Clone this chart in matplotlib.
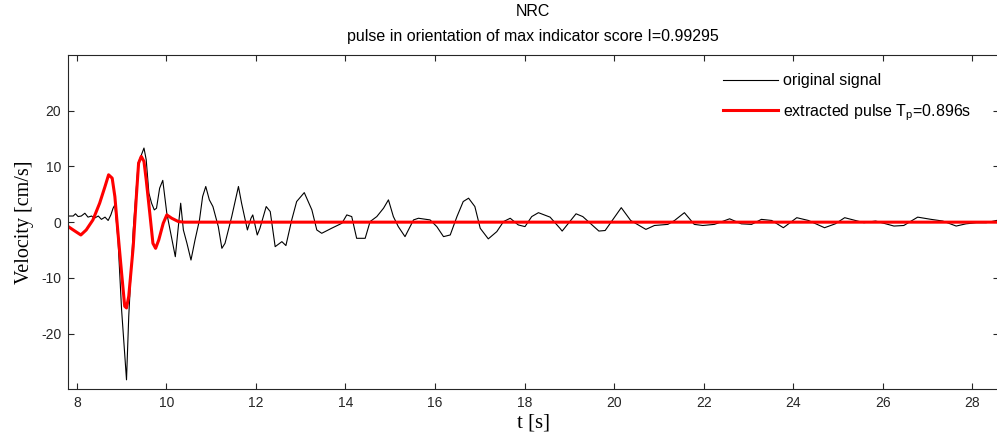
import matplotlib
matplotlib.use('Agg')
import matplotlib.pyplot as plt

# original signal
t_orig = [7.81, 7.92, 7.97, 8.03, 8.10, 8.18, 8.25, 8.33, 8.39, 8.48, 8.55, 8.63, 8.70, 8.76, 8.81, 8.85,
          8.92, 9.00, 9.11, 9.16, 9.26, 9.37, 9.43, 9.50, 9.55, 9.61, 9.67, 9.73, 9.78, 9.85, 9.92,
          10.01, 10.20, 10.32, 10.38, 10.46, 10.55, 10.64, 10.74, 10.81, 10.88, 10.96, 11.04, 11.16,
          11.24, 11.31, 11.46, 11.61, 11.68, 11.76, 11.81, 11.89, 11.93, 12.03, 12.09, 12.23,
          12.32, 12.43, 12.58, 12.67, 12.80, 12.91, 13.08, 13.25, 13.36, 13.47, 13.69, 13.92, 14.03,
          14.14, 14.25, 14.44, 14.55, 14.70, 14.85, 14.96, 15.07, 15.18, 15.33, 15.52, 15.63, 15.89,
          16.04, 16.19, 16.34, 16.49, 16.63, 16.75, 16.89, 17.01, 17.19, 17.38, 17.53, 17.68, 17.86,
          18.01, 18.16, 18.31, 18.57, 18.79, 18.84, 19.15, 19.30, 19.66, 19.80, 20.16, 20.37, 20.71,
          20.90, 21.20, 21.35, 21.57, 21.79, 21.98, 22.24, 22.58, 22.84, 23.07, 23.29, 23.52, 23.78,
          24.08, 24.34, 24.70, 24.94, 25.15, 25.39, 25.58, 25.84, 26.25, 26.47, 26.78, 27.08, 27.34,
          27.64, 27.86, 28.09, 28.31, 28.54]
v_orig = [1.1, 1.1, 1.5, 1.0, 1.1, 1.6, 0.9, 1.1, 0.7, 1.1, 0.5, 0.9, 0.3, 1.3, 2.5, 3.1,
          -3.2, -15.7, -28.3, -16.9, -1.4, 10.6, 11.8, 13.3, 11.2, 5.2, 3.4, 2.2, 2.5, 6.1, 7.5,
          1.6, -6.2, 3.4, -1.4, -3.8, -6.8, -3.2, 0.4, 4.6, 6.4, 4.0, 2.8, -0.8,
          -4.7, -3.8, 1.0, 6.4, 3.4, 0.4, -1.4, 0.7, 1.3, -2.3, -1.1, 2.8,
          1.9, -4.4, -3.5, -4.2, 0.4, 3.7, 5.3, 2.2, -1.4, -2.0, -1.1, -0.2, 1.3,
          1.0, -2.9, -2.9, 0.1, 1.0, 2.5, 4.0, 1.0, -0.8, -2.6, 0.4, 0.7, 0.4,
          -0.8, -2.6, -2.3, 1.0, 3.7, 4.3, 2.8, -1.1, -3.0, -1.7, 0.1, 0.7, -0.5,
          -0.8, 1.0, 1.7, 0.9, -1.1, -1.6, 1.5, 1.0, -1.6, -1.5, 2.6, 0.3, -1.3,
          -0.6, -0.4, 0.3, 1.7, -0.4, -0.6, -0.4, 0.6, -0.3, -0.4, 0.5, 0.3, -1.0,
          0.8, 0.3, -1.0, -0.3, 0.8, 0.3, -0.1, 0.2, -0.7, -0.6, 0.9, 0.5, 0.2,
          -0.7, -0.3, -0.1, -0.1, 0.3]

# extracted pulse
t_pulse = [7.81, 7.92, 8.09, 8.21, 8.36, 8.51, 8.63, 8.71, 8.79, 8.85, 8.92, 9.00, 9.07, 9.11, 9.16,
           9.26, 9.33, 9.38, 9.44, 9.50, 9.55, 9.63, 9.70, 9.76, 9.83, 9.93, 10.01, 10.12, 10.27,
           10.40, 28.6]
v_pulse = [-0.8, -1.4, -2.3, -1.4, 0.4, 3.4, 6.4, 8.5, 7.9, 4.6, -2.0, -9.1, -15.1, -15.4, -13.3,
           -4.4, 4.6, 10.6, 11.8, 10.9, 7.6, 1.6, -3.8, -4.7, -3.2, -0.2, 1.3, 0.7, 0.1,
           0.0, 0.0]

x_ticks = [8, 10, 12, 14, 16, 18, 20, 22, 24, 26, 28]
y_ticks = [-20, -10, 0, 10, 20]

plt.rcParams['font.family'] = ['Liberation Sans', 'DejaVu Sans']
plt.rcParams['mathtext.fontset'] = 'custom'
plt.rcParams['mathtext.rm'] = 'Liberation Sans'
plt.rcParams['mathtext.it'] = 'Liberation Sans:italic'
plt.rcParams['axes.unicode_minus'] = False

fig = plt.figure(figsize=(9.97, 4.47), dpi=100)
ax = fig.add_axes([68.3 / 997, 57.7 / 447, 930.2 / 997, 334.3 / 447])

ax.plot(t_orig, v_orig, color='k', lw=0.8, label='original signal')
ax.plot(t_pulse, v_pulse, color='#ff0000', lw=2.2, label=r'extracted pulse T$_{\mathrm{p}}$=0.896s')

ax.set_xlim(7.81, 28.585)
ax.set_ylim(-30, 30)
ax.set_xticks(x_ticks)
ax.set_yticks(y_ticks)
ax.tick_params(direction='in', top=True, right=True, length=4.5, width=0.8,
               labelsize=10, pad=5, colors='#262626')
for s in ax.spines.values():
    s.set_linewidth(0.8)
    s.set_color('#262626')

ax.set_xlabel('t [s]', fontsize=15, family='Liberation Serif', labelpad=2)
ax.set_ylabel('Velocity [cm/s]', fontsize=14.5, family='Liberation Serif', labelpad=5)

fig.text(533 / 997, 1 - 12 / 447, 'NRC', ha='center', va='center', fontsize=11.5)
fig.text(533 / 997, 1 - 36 / 447, 'pulse in orientation of max indicator score I=0.99295',
         ha='center', va='center', fontsize=11.5)

ax.legend(loc='upper left', bbox_to_anchor=(0.704, 0.945), frameon=False, fontsize=11.5,
          handlelength=3.45, handletextpad=0.3, labelspacing=0.85, borderpad=0, borderaxespad=0)

fig.savefig('out.png', dpi=100)
